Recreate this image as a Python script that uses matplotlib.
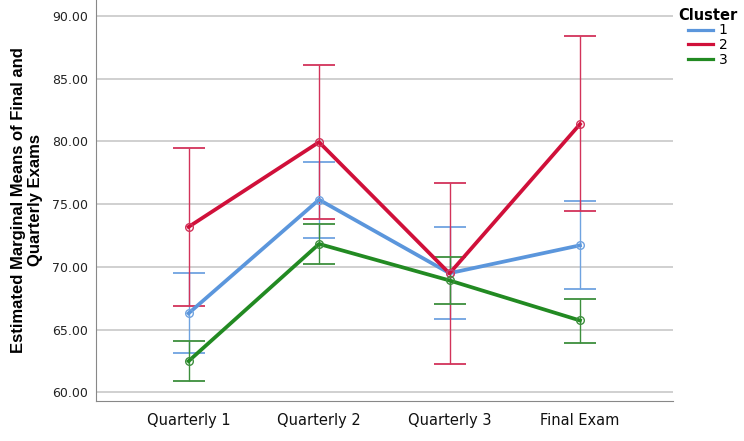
import numpy as np
import matplotlib.pyplot as plt

exams = ["Quarterly 1", "Quarterly 2", "Quarterly 3", "Final Exam"]
clusters = ["1", "2", "3"]

# estimated marginal means and 95% CI per cluster
mean_1 = [66.30, 75.36, 69.50, 71.72]
low_1  = [63.10, 72.30, 65.83, 68.21]
high_1 = [69.50, 78.40, 73.17, 75.24]

mean_2 = [73.19, 79.95, 69.48, 81.38]
low_2  = [66.87, 73.83, 62.26, 74.44]
high_2 = [79.50, 86.06, 76.70, 88.37]

mean_3 = [62.49, 71.83, 68.92, 65.73]
low_3  = [60.87, 70.23, 67.06, 63.96]
high_3 = [64.12, 73.40, 70.80, 67.48]

colors = ["#5b96dc", "#d0103a", "#228a22"]
err_colors = ["#6fa3e0", "#d2335a", "#3d8f3d"]

fig = plt.figure(figsize=(7.44, 4.41), dpi=100)
ax = fig.add_axes([0.129, 0.091, 0.775, 0.909])

x = np.arange(len(exams))
series = [(mean_1, low_1, high_1), (mean_2, low_2, high_2), (mean_3, low_3, high_3)]
for i, (m, lo, hi) in enumerate(series):
    m = np.array(m); lo = np.array(lo); hi = np.array(hi)
    ax.errorbar(x, m, yerr=[m - lo, hi - m], fmt="none", ecolor=err_colors[i],
                elinewidth=1.0, capsize=11.5, capthick=1.3, zorder=3)
    ax.plot(x, m, color=colors[i], lw=2.7, label=clusters[i], zorder=4)
    ax.plot(x, m, "o", ms=5.5, mfc="none", mec=err_colors[i], mew=1.0, zorder=5)

ax.set_xlim(-0.71, 3.71)
ax.set_ylim(59.32, 91.28)
ax.set_yticks(np.arange(60, 91, 5))
ax.set_yticklabels(["%.2f" % v for v in np.arange(60, 91, 5)], fontsize=9, color="#222222")
ax.set_xticks(x)
ax.set_xticklabels(exams, fontsize=10.5, color="#111111")
ax.tick_params(axis="both", length=0, pad=6)
ax.tick_params(axis="x", pad=9)
ax.yaxis.grid(True, color="#c8c8c8", lw=1.2)
ax.set_axisbelow(True)
for s in ["top", "right"]:
    ax.spines[s].set_visible(False)
for s in ["left", "bottom"]:
    ax.spines[s].set_color("#888888")

ax.set_ylabel("Estimated Marginal Means of Final and\nQuarterly Exams",
              fontsize=12, fontweight="bold", family="Liberation Sans", labelpad=6)

leg = ax.legend(loc="upper left", bbox_to_anchor=(0.993, 1.005), frameon=False,
                title="Cluster", fontsize=10, handlelength=1.8, handletextpad=0.4,
                labelspacing=0.05, borderaxespad=0.3)
leg.get_title().set_fontweight("bold")
leg.get_title().set_fontsize(10.5)
for line in leg.get_lines():
    line.set_linewidth(2.3)

fig.savefig("out.png", dpi=100)
